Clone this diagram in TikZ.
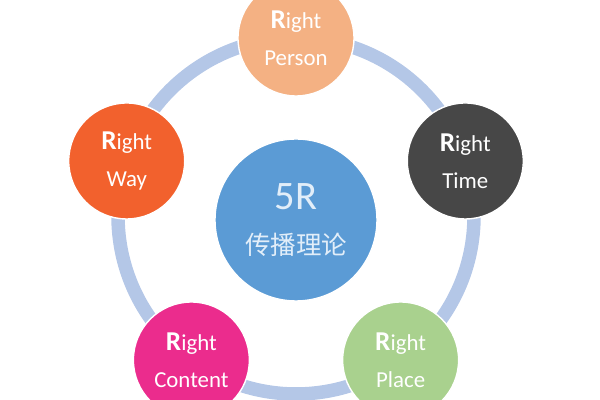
\documentclass[tikz,border=0pt]{standalone}
\usepackage{fontspec}
\setmainfont{Carlito}
\newfontfamily\cjk{Noto Sans CJK SC}
\definecolor{ringblue}{HTML}{B4C7E7}
\definecolor{personcol}{HTML}{F4B183}
\definecolor{waycol}{HTML}{F2612D}
\definecolor{timecol}{HTML}{474747}
\definecolor{contentcol}{HTML}{EB2C8D}
\definecolor{placecol}{HTML}{A9D18E}
\definecolor{midcol}{HTML}{5B9BD5}
\definecolor{midtext}{HTML}{E2EEF9}
\newcommand{\rword}{{\fontsize{15.5}{15.5}\selectfont\bfseries R}{\fontsize{13}{13}\selectfont ight}}

\begin{document}
\begin{tikzpicture}[
  petal/.style={circle, minimum size=2.32cm, inner sep=0pt, draw=white,
    line width=0.8pt, align=center, text=white,
    font=\fontsize{13}{21}\selectfont},
  hub/.style={circle, minimum size=3.24cm, inner sep=0pt, fill=midcol,
    draw=white, line width=0.8pt, align=center, text=midtext,
    font=\fontsize{23}{26}\selectfont}
]
  \useasboundingbox (0,0) rectangle (12,8);
  \coordinate (ring) at (5.92,3.68);
  \draw[ringblue, line width=0.27cm] (ring) circle (3.56);
  \node[hub] (theory) at (5.92,3.6) {5R\\{\cjk\fontsize{14.5}{14.5}\selectfont 传播理论}};
  \node[petal, fill=personcol] (person) at ([shift={(90:3.56)}]ring) {\rword\\Person};
  \node[petal, fill=waycol] (way) at ([shift={(162:3.56)}]ring) {\rword\\Way};
  \node[petal, fill=timecol] (time) at ([shift={(18:3.56)}]ring) {\rword\\Time};
  \node[petal, fill=contentcol] (content) at ([shift={(234:3.56)}]ring) {\rword\\Content};
  \node[petal, fill=placecol] (place) at ([shift={(306:3.56)}]ring) {\rword\\Place};
\end{tikzpicture}
\end{document}
